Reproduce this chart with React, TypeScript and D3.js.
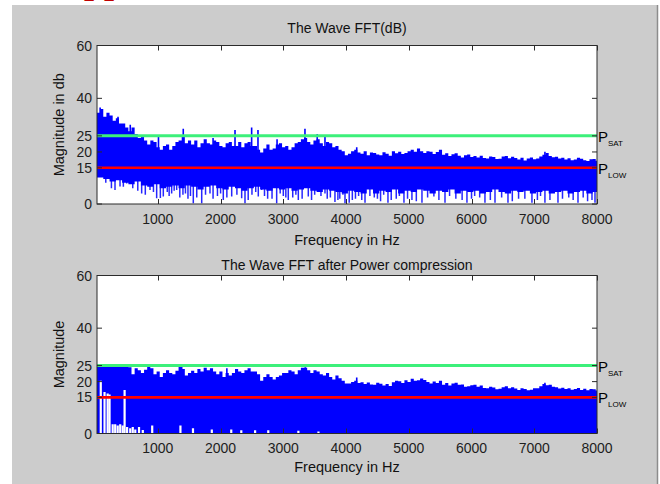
import { useEffect, useRef } from 'react';
import * as d3 from 'd3';

// spectrum on a 50 Hz grid starting at 30 Hz
const binStartHz = d3.range(30, 8000, 50);

// top panel: upper edge of the dense band (dB), one value per 50 Hz bin
const topUpperDb = [
  34.5, 36, 33, 34.5, 33.5, 31.5, 32.5, 30.5, 30.5, 29, 27.5, 29, 26.5, 25, 25.5, 24, 22.5, 24, 23.5, 21.5,
  20.5, 22, 22.5, 20.5, 22, 23.5, 24, 26, 23, 24, 22.5, 24, 21.5, 23, 24.5, 23, 22.5, 24, 23.5, 22,
  21.5, 23, 23.5, 22, 22, 23.5, 21.5, 23, 23.5, 22, 22, 20.5, 19.5, 21, 22.5, 20.5, 21, 22.5, 23, 21.5,
  22, 20.5, 21.5, 23, 23.5, 24.5, 25, 23.5, 22.5, 24, 24.5, 23, 22, 23.5, 23, 21.5, 22, 20.5, 20, 18.5,
  19, 20, 20.5, 19.5, 19, 20, 18.5, 19.5, 19.3, 18.7, 18.5, 19.6, 19, 18.3, 20, 19.2, 19.8, 18.9, 19.3, 20,
  20.5, 19.8, 21, 20, 19.3, 20, 19.8, 18.9, 19.7, 20.5, 18.6, 19.2, 18.2, 18.8, 19.2, 18.3, 17.6, 18.5, 18.7, 17.8,
  18.2, 17.6, 18.3, 17.4, 17.2, 18, 17.8, 17, 17.1, 18, 18.2, 17.3, 17.9, 17.4, 16.8, 17.5, 16.5, 17.2, 17.6, 16.9,
  17.2, 18, 18.6, 19.3, 18.2, 17.7, 17.9, 17.2, 17.5, 16.8, 17.3, 16.6, 16.8, 17.5, 17.1, 16.6, 16.3, 16.9, 17, 16.4,
];
// top panel: lower edge of the dense band (dB), one value per 100 Hz
const topLowerDb = [
  10, 9.5, 8.5, 9, 8, 7.5, 8.5, 7, 6.5, 7.5,
  6, 6.5, 7, 6, 7, 6.5, 5.5, 6.5, 7, 6,
  5.5, 6.5, 6, 5, 6, 6.5, 5.5, 5, 6, 5.5,
  6, 5, 5.5, 6, 5, 4.5, 5.5, 5, 4.5, 4,
  5, 4.5, 4, 5.5, 4, 5, 4.5, 5.5, 4, 5,
  4.5, 5.5, 5, 4, 5, 4.5, 5.5, 4, 5, 4.5,
  5, 4, 4.5, 5.5, 4.5, 4, 5, 4.5, 5, 4,
  4.5, 5, 4, 4.5, 5, 4, 4.5, 5, 4, 4.5,
];
// single bins sticking out above the band: [Hz, dB]
const topPeaks = [
  [80, 36.5], [365, 33], [560, 30], [1010, 25.5], [1405, 28.5], [1880, 25],
  [2230, 28], [2495, 29], [2596, 28], [2900, 24.5], [3345, 28.5], [3540, 26.5],
  [3664, 26], [4170, 21.5], [7170, 19.8],
];
// single bins dropping below the band: [Hz, dB]
const topDips = [
  [170, 8], [260, 6], [317, 5.3], [397, 6.6], [450, 6.5], [503, 7.8], [600, 6], [680, 5],
  [742, 4], [800, 3.5], [875, 5.3], [930, 4.5], [981, 2.2], [1040, 2.3], [1087, 2.8],
  [1150, 4.5], [1180, 3], [1220, 4], [1260, 5], [1300, 5.3], [1350, 2.5], [1400, 3.5],
  [1440, 4], [1480, 2], [1520, 3], [1565, 0.3], [1620, 2.5], [1699, 0.3], [1760, 3.5],
  [1831, 4], [1880, 2], [1950, 3], [2000, 4], [2043, 1.5], [2100, 2.5], [2177, 2.8],
  [2260, 3.5], [2336, 2.2], [2389, 0.3], [2440, 1.5], [2500, 3.5], [2560, 4.5], [2601, 2.8],
  [2655, 5.3], [2700, 3], [2750, 2], [2820, 2], [2894, 0.3], [2950, 4], [3000, 3], [3040, 2.5],
  [3079, 1.5], [3150, 2.5], [3200, 3.5], [3239, 1.5], [3300, 2], [3398, 2.8], [3450, 1.5],
  [3500, 3.5], [3600, 3], [3664, 4], [3700, 2], [3750, 2.5], [3823, 0.8], [3870, 1.5],
  [3900, 2], [3950, 3.5], [3983, 0.3], [4050, 0.5], [4100, 1.5], [4150, 2], [4200, 3],
  [4250, 1.5], [4302, 0.5], [4380, 3], [4450, 2.5], [4500, 2], [4550, 1], [4600, 3.5],
  [4668, 0.5], [4720, 1.5], [4800, 2], [4850, 3], [4923, 0.5], [4980, 2], [5050, 1.5],
  [5120, 1], [5210, 0.5], [5300, 2.5], [5400, 2.8], [5480, 1.5], [5577, 0.5], [5650, 3],
  [5750, 2], [5850, 1.5], [5927, 0.5], [6000, 2], [6050, 3], [6130, 2.5], [6214, 0.5],
  [6300, 1.5], [6374, 0.5], [6480, 2.5], [6581, 0.5], [6650, 1], [6750, 2], [6850, 2],
  [6963, 0.5], [7050, 1.5], [7100, 3], [7170, 0.5], [7250, 1.5], [7378, 0.5], [7450, 2],
  [7550, 2.5], [7620, 1.5], [7697, 0.5], [7780, 2.5], [7850, 1], [7920, 1.5], [7968, 0.5],
];

// bottom panel (after power compression): band runs down to 0 dB
const bottomUpperDb = [
  25.8, 25.8, 25.8, 25.8, 25.8, 25.8, 25.8, 25.8, 25.8, 25.8, 25.2, 22.5, 24.8, 24, 23, 24.2, 25.5, 24.8, 22.5, 23.5,
  21.5, 23, 24, 23, 22.5, 23.8, 25.5, 24.5, 22, 23, 23.8, 23, 24.5, 23.5, 25, 24, 24.8, 23.5, 22.5, 23.5,
  21.5, 23, 22, 23, 24.5, 23.5, 23, 24, 24.8, 23.5, 23.5, 22.5, 20, 21.5, 22.5, 21.5, 20.5, 21.5, 22, 23,
  23, 24, 23.5, 22.5, 24, 25, 25, 24, 23, 24, 23.5, 22.5, 22, 23, 21.5, 20.5, 22, 21, 20, 19,
  19, 19.6, 20, 19.2, 19.5, 18.8, 19.4, 18.6, 18.5, 19.3, 18.9, 18.2, 18.8, 18, 19.5, 20, 19.8, 19.2, 20.2, 19.6,
  20.8, 20, 20.2, 20.9, 20.3, 19.6, 19, 19.7, 19.2, 20, 18.5, 19.2, 18.2, 19, 19.3, 18.5, 18.6, 17.8, 17.9, 18.3,
  18.5, 17.8, 18.2, 17.3, 17.2, 17.8, 17.5, 16.8, 17, 17.6, 17.9, 17.2, 17.6, 17.1, 16.5, 17.2, 16.9, 16.4, 16.6, 17.2,
  17.2, 17.9, 18.8, 18.3, 18.5, 17.8, 17.6, 17.1, 17.4, 16.9, 17.2, 16.6, 16.9, 17.3, 16.5, 17, 16.4, 16.9, 16.8, 16.3,
];
const bottomPeaks = [[1380, 26], [2100, 24.8], [3350, 25.2], [4170, 21.3], [7170, 19.3]];
// empty columns near the floor: [Hz, dB reached by the gap]
const bottomGaps = [
  [90, 20], [150, 15.8], [200, 15.2], [230, 14.8], [280, 3.5], [320, 3.5], [360, 3],
  [400, 3.5], [440, 3], [470, 16.5], [510, 2.5], [560, 2], [600, 2.5], [640, 1.5],
  [700, 2.5], [760, 1.3], [910, 3], [1360, 3], [1560, 2], [1860, 1.5], [2170, 1.5],
  [2330, 1.2], [2550, 1.2], [2760, 1.2], [3240, 1], [3560, 0.8],
];

const satDb = 25.8;
const lowDb = 13.7;
const xTicks = [1000, 2000, 3000, 4000, 5000, 6000, 7000, 8000];
const yTickPos = [0, lowDb, 19.7, satDb, 40, 60];
const yTickLabels = ['0', '15', '20', '25', '40', '60'];

const W = 660;
const H = 484;
const FONT = "'Liberation Sans', Arial, Helvetica, sans-serif";

export default function App() {
  const ref = useRef<SVGSVGElement>(null);

  useEffect(() => {
    const svg = d3.select(ref.current);
    svg.selectAll('*').remove();

    svg.append('rect').attr('width', W).attr('height', H).attr('fill', '#fff');
    svg.append('rect').attr('x', 12).attr('y', 5).attr('width', 645).attr('height', H - 5).attr('fill', '#cccccc');
    svg.append('line').attr('x1', 657.5).attr('x2', 657.5).attr('y1', 5).attr('y2', H)
      .attr('stroke', '#8c8c8c').attr('stroke-width', 1.5);
    // bottom edge of the page heading above the figure
    svg.append('text').attr('x', 58).attr('y', -7)
      .attr('font-family', "'Liberation Serif', 'Times New Roman', serif").attr('font-weight', 700)
      .attr('font-size', 36).attr('fill', '#c00000').text('Application');

    const x = d3.scaleLinear().domain([30, 8000]).range([97, 597]);

    const panels = [
      {
        top: 45.5, bottom: 204, title: 'The Wave FFT(dB)', titleY: 33, yLabel: 'Magnitude in db',
        tickY: 224, xLabelY: 245, upper: topUpperDb, lower: (i: number) => topLowerDb[Math.floor(i / 2)],
        peaks: topPeaks, dips: topDips, gaps: [],
      },
      {
        top: 275.5, bottom: 433.5, title: 'The Wave FFT after Power compression', titleY: 269.5,
        yLabel: 'Magnitude', tickY: 453, xLabelY: 472, upper: bottomUpperDb,
        lower: () => 0, peaks: bottomPeaks, dips: [], gaps: bottomGaps,
      },
    ];

    panels.forEach((p, k) => {
      const y = d3.scaleLinear().domain([0, 60]).range([p.bottom, p.top]);
      const g = svg.append('g');
      const [x0, x1] = x.range();

      g.append('rect').attr('x', x0).attr('y', p.top).attr('width', x1 - x0)
        .attr('height', p.bottom - p.top).attr('fill', '#fff');

      const clipId = `plotclip${k}`;
      svg.append('clipPath').attr('id', clipId).append('rect')
        .attr('x', x0).attr('y', p.top).attr('width', x1 - x0).attr('height', p.bottom - p.top);
      const plot = g.append('g').attr('clip-path', `url(#${clipId})`);

      const pts = binStartHz.map((f, i) => ({ f, lo: p.lower(i), hi: p.upper[i] }));
      pts.push({ f: 8030, lo: pts[pts.length - 1].lo, hi: pts[pts.length - 1].hi });
      const area = d3.area<any>().x(d => x(d.f)).y0(d => y(d.lo)).y1(d => y(d.hi)).curve(d3.curveStepAfter);
      plot.append('path').attr('d', area(pts)).attr('fill', '#0000ff');

      plot.selectAll('line.dip').data(p.dips).join('line').attr('class', 'dip')
        .attr('x1', d => x(d[0])).attr('x2', d => x(d[0]))
        .attr('y1', y(12)).attr('y2', d => y(d[1]))
        .attr('stroke', '#0000ff').attr('stroke-width', 1.5).attr('stroke-opacity', 0.85);

      plot.selectAll('line.peak').data(p.peaks).join('line').attr('class', 'peak')
        .attr('x1', d => x(d[0])).attr('x2', d => x(d[0]))
        .attr('y1', y(15)).attr('y2', d => y(d[1]))
        .attr('stroke', '#0000ff').attr('stroke-width', 1.6);

      plot.selectAll('line.gap').data(p.gaps).join('line').attr('class', 'gap')
        .attr('x1', d => x(d[0])).attr('x2', d => x(d[0]))
        .attr('y1', y(0)).attr('y2', d => y(d[1]))
        .attr('stroke', '#fff').attr('stroke-width', 2.2);

      plot.append('line').attr('x1', x0).attr('x2', x1).attr('y1', y(satDb)).attr('y2', y(satDb))
        .attr('stroke', '#3cf07a').attr('stroke-width', 3);
      plot.append('line').attr('x1', x0).attr('x2', x1).attr('y1', y(lowDb)).attr('y2', y(lowDb))
        .attr('stroke', '#ff0000').attr('stroke-width', 2.6);

      // MATLAB style box with inward ticks
      g.append('rect').attr('x', x0).attr('y', p.top).attr('width', x1 - x0)
        .attr('height', p.bottom - p.top).attr('fill', 'none').attr('stroke', '#2b2b2b').attr('stroke-width', 1);

      xTicks.forEach(t => {
        const xx = Math.round(x(t)) + 0.5;
        g.append('line').attr('x1', xx).attr('x2', xx).attr('y1', p.bottom).attr('y2', p.bottom - 5).attr('stroke', '#2b2b2b');
        g.append('line').attr('x1', xx).attr('x2', xx).attr('y1', p.top).attr('y2', p.top + 5).attr('stroke', '#2b2b2b');
        g.append('text').attr('x', x(t)).attr('y', p.tickY).attr('text-anchor', 'middle')
          .attr('font-family', FONT).attr('font-size', 14).attr('fill', '#1e1e1e').text(String(t));
      });

      yTickPos.forEach((t, i) => {
        const yy = y(t);
        g.append('line').attr('x1', x0).attr('x2', x0 + 5).attr('y1', yy).attr('y2', yy).attr('stroke', '#2b2b2b');
        g.append('line').attr('x1', x1).attr('x2', x1 - 5).attr('y1', yy).attr('y2', yy).attr('stroke', '#2b2b2b');
        g.append('text').attr('x', x0 - 5).attr('y', yy).attr('dy', '0.36em').attr('text-anchor', 'end')
          .attr('font-family', FONT).attr('font-size', 14).attr('fill', '#1e1e1e').text(yTickLabels[i]);
      });

      g.append('text').attr('x', (x0 + x1) / 2).attr('y', p.titleY).attr('text-anchor', 'middle')
        .attr('font-family', FONT).attr('font-size', 14).attr('fill', '#111').text(p.title);
      g.append('text').attr('x', (x0 + x1) / 2).attr('y', p.xLabelY).attr('text-anchor', 'middle')
        .attr('font-family', FONT).attr('font-size', 14.5).attr('fill', '#111').text('Frequency in Hz');
      g.append('text')
        .attr('transform', `translate(64,${(p.top + p.bottom) / 2}) rotate(-90)`)
        .attr('text-anchor', 'middle')
        .attr('font-family', FONT).attr('font-size', 14.5).attr('fill', '#111').text(p.yLabel);

      [[satDb, 'SAT'], [lowDb, 'LOW']].forEach(([v, sub]) => {
        const yy = y(v as number);
        g.append('text').attr('x', x1 + 1).attr('y', yy + 6).attr('font-family', FONT)
          .attr('font-size', 15).attr('fill', '#000').text('P');
        g.append('text').attr('x', x1 + 11).attr('y', yy + 10).attr('font-family', FONT)
          .attr('font-size', 8).attr('fill', '#000').text(sub as string);
      });
    });
  }, []);

  return (
    <svg ref={ref} width={W} height={H}
      style={{ position: 'absolute', left: 0, top: 0, display: 'block' }} />
  );
}
